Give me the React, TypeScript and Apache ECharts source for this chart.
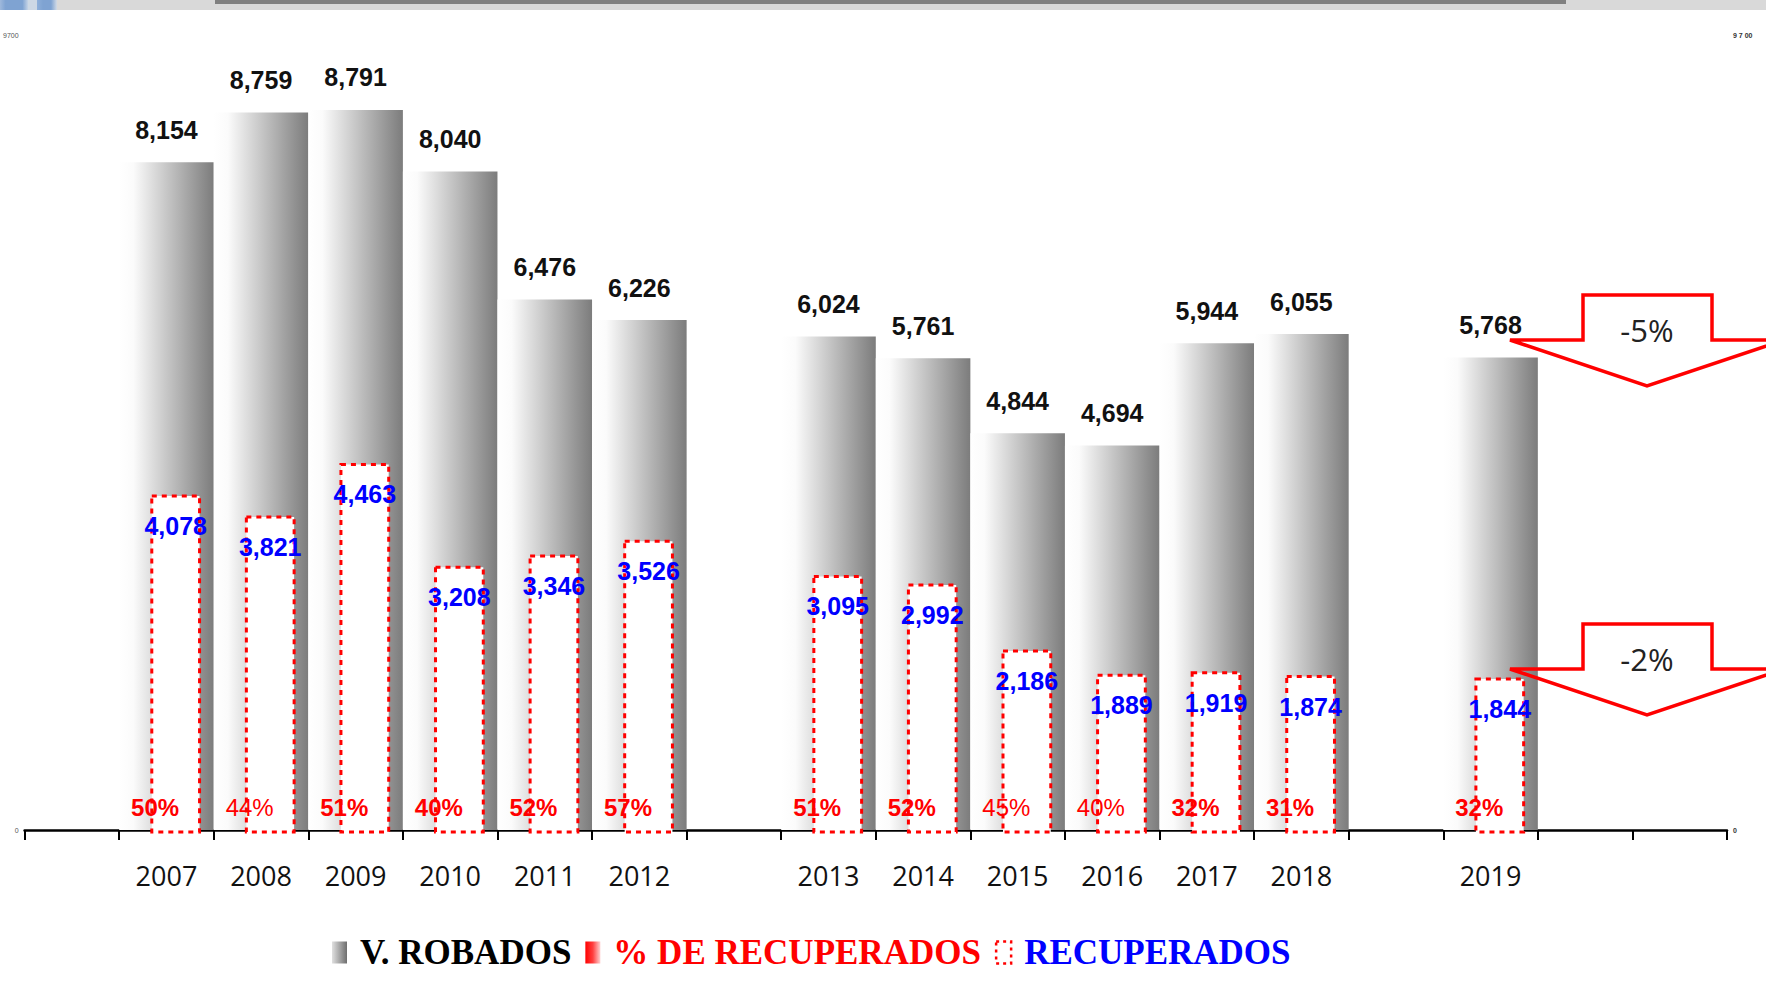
import React, { useEffect, useRef } from "react";
import * as echarts from "echarts";

// ---- Data ----
const categories = ["", "2007", "2008", "2009", "2010", "2011", "2012", "", "2013", "2014", "2015", "2016", "2017", "2018", "", "2019", "", ""];
const years = ["2007", "2008", "2009", "2010", "2011", "2012", "2013", "2014", "2015", "2016", "2017", "2018", "2019"];
const robados = [8154, 8759, 8791, 8040, 6476, 6226, 6024, 5761, 4844, 4694, 5944, 6055, 5768];
const recuperados = [4078, 3821, 4463, 3208, 3346, 3526, 3095, 2992, 2186, 1889, 1919, 1874, 1844];
const pctRecuperados = [50, 44, 51, 40, 52, 57, 51, 52, 45, 40, 32, 31, 32];
const pctBold = [true, false, true, true, true, true, true, true, false, false, true, true, true];
const yTickLabels = [0, 9700];
const changeNotes = ["-5%", "-2%"];

const fmt = (v: number) => Math.round(v).toLocaleString("en-US");

export default function App() {
  const ref = useRef<HTMLDivElement>(null);

  useEffect(() => {
    if (!ref.current) return;
    const chart = echarts.init(ref.current, null, { renderer: "svg" });

    const robadosData = categories.map((c) => {
      const i = years.indexOf(c);
      return c && i >= 0 ? robados[i] : "-";
    });
    const recData = years.map((y, i) => [categories.indexOf(y), recuperados[i]]);
    const pctData = years.map((y, i) => [categories.indexOf(y), pctRecuperados[i]]);

    const grayGrad = new echarts.graphic.LinearGradient(0, 0, 1, 0, [
      { offset: 0, color: "#ffffff" },
      { offset: 0.15, color: "#fbfbfb" },
      { offset: 1, color: "#7c7c7c" },
    ]);
    const grayIcon = new echarts.graphic.LinearGradient(0, 0, 1, 0, [
      { offset: 0, color: "#e0e0e0" },
      { offset: 1, color: "#6e6e6e" },
    ]);
    const redGrad = new echarts.graphic.LinearGradient(0, 0, 1, 0, [
      { offset: 0, color: "#ff0000" },
      { offset: 0.5, color: "#ff4040" },
      { offset: 1, color: "#ffd0d0" },
    ]);

    const arrow = (dy: number, text: string) => [
      {
        type: "polygon",
        z: 100,
        shape: {
          points: [
            [1583, 295 + dy],
            [1712, 295 + dy],
            [1712, 340 + dy],
            [1784, 340 + dy],
            [1647, 386 + dy],
            [1510, 340 + dy],
            [1583, 340 + dy],
          ],
        },
        style: { fill: "none", stroke: "#ff0000", lineWidth: 3.5 },
      },
      {
        type: "text",
        z: 101,
        x: 1647,
        y: 330 + dy,
        style: {
          text,
          fill: "#222",
          font: '31px "Open Sans", sans-serif',
          align: "center",
          verticalAlign: "middle",
        },
      },
    ];

    chart.setOption({
      animation: false,
      backgroundColor: "#ffffff",
      grid: { left: 24, right: 39, top: 35.5, bottom: 163, containLabel: false },
      legend: {
        left: 327,
        top: 930,
        itemWidth: 15,
        itemHeight: 22,
        itemGap: 14,
        selectedMode: false,
        textStyle: {
          fontFamily: '"Liberation Serif", "Times New Roman", serif',
          fontWeight: "bold",
          fontSize: 35,
          padding: [0, 0, 0, 8],
        },
        data: [
          { name: "V. ROBADOS", icon: "rect", itemStyle: { color: grayIcon }, textStyle: { color: "#000" } },
          { name: "% DE RECUPERADOS", icon: "rect", itemStyle: { color: redGrad }, textStyle: { color: "#ff0000" } },
          {
            name: "RECUPERADOS",
            icon: "rect",
            itemStyle: { color: "#fff", borderColor: "#ff0000", borderWidth: 2.5, borderType: [3, 4] },
            textStyle: { color: "#0000ff" },
          },
        ],
      },
      xAxis: {
        type: "category",
        data: categories,
        boundaryGap: true,
        axisLine: { lineStyle: { color: "#000", width: 2.5 } },
        axisTick: { show: true, length: 10, inside: false, alignWithLabel: false, interval: 0, lineStyle: { color: "#000", width: 2 } },
        axisLabel: {
          interval: 0,
          margin: 32,
          fontSize: 27,
          fontFamily: '"Open Sans", sans-serif',
          color: "#111",
        },
        splitLine: { show: false },
      },
      yAxis: [
        {
          type: "value",
          min: yTickLabels[0],
          max: yTickLabels[1],
          interval: yTickLabels[1],
          position: "left",
          axisLine: { show: false },
          axisTick: { show: false },
          splitLine: { show: false },
          axisLabel: {
            fontSize: 7,
            color: "#555",
            margin: 6,
            fontFamily: "Liberation Sans",
            formatter: (v: number) => String(v),
          },
        },
        {
          type: "value",
          min: yTickLabels[0],
          max: yTickLabels[1],
          interval: yTickLabels[1],
          position: "right",
          axisLine: { show: false },
          axisTick: { show: false },
          splitLine: { show: false },
          axisLabel: {
            fontSize: 7,
            color: "#333",
            fontWeight: "bold",
            margin: 6,
            fontFamily: "Liberation Sans",
            formatter: (v: number) => (v === yTickLabels[1] ? "9 7 00" : String(v)),
          },
        },
      ],
      series: [
        {
          name: "V. ROBADOS",
          type: "bar",
          data: robadosData,
          barWidth: "100%",
          barCategoryGap: "0%",
          itemStyle: { color: grayGrad },
          label: {
            show: true,
            position: "top",
            distance: 20,
            formatter: (p: any) => fmt(p.value),
            fontFamily: '"Liberation Sans", Arial, sans-serif',
            fontWeight: "bold",
            fontSize: 25,
            color: "#111",
          },
          z: 2,
        },
        {
          name: "RECUPERADOS",
          type: "custom",
          data: recData,
          z: 3,
          renderItem: (params: any, api: any) => {
            const idx = api.value(0);
            const val = api.value(1);
            const top = api.coord([idx, val]);
            const base = api.coord([idx, 0]);
            const w = api.size([1, 0])[0];
            const x0 = top[0] - 0.155 * w;
            const x1 = top[0] + 0.35 * w;
            return {
              type: "group",
              children: [
                {
                  type: "rect",
                  shape: { x: x0, y: top[1], width: x1 - x0, height: base[1] - top[1] + 2 },
                  style: { fill: "#fff", stroke: "#ff0000", lineWidth: 3, lineDash: [5, 5] },
                },
                {
                  type: "text",
                  x: (x0 + x1) / 2,
                  y: top[1] + 30,
                  style: {
                    text: fmt(val),
                    fill: "#0000ff",
                    font: 'bold 25px "Liberation Sans", Arial, sans-serif',
                    align: "center",
                    verticalAlign: "middle",
                  },
                },
              ],
            };
          },
        },
        {
          name: "% DE RECUPERADOS",
          type: "custom",
          data: pctData,
          z: 4,
          renderItem: (params: any, api: any) => {
            const idx = api.value(0);
            const val = api.value(1);
            const base = api.coord([idx, 0]);
            const w = api.size([1, 0])[0];
            const bold = pctBold[params.dataIndex];
            return {
              type: "text",
              x: base[0] - 0.12 * w,
              y: base[1] - 22.5,
              style: {
                text: val + "%",
                fill: "#ff0000",
                font: (bold ? "bold " : "") + '24px "Liberation Sans", Arial, sans-serif',
                align: "center",
                verticalAlign: "middle",
              },
            };
          },
        },
      ],
      graphic: [
        { type: "rect", z: 50, shape: { x: 0, y: 0, width: 1766, height: 10 }, style: { fill: "#d9d9d9" } },
        { type: "rect", z: 51, shape: { x: 215, y: 0, width: 1351, height: 4 }, style: { fill: "#808080" } },
        {
          type: "rect",
          z: 51,
          shape: { x: 0, y: 0, width: 28, height: 10 },
          style: {
            fill: new echarts.graphic.LinearGradient(0, 0, 1, 0, [
              { offset: 0, color: "#9fb9dc" },
              { offset: 0.2, color: "#7fa3d2" },
              { offset: 0.8, color: "#7fa3d2" },
              { offset: 1, color: "#c4d3e6" },
            ]),
          },
        },
        { type: "rect", z: 51, shape: { x: 28, y: 0, width: 9, height: 10 }, style: { fill: "#cdd8e5" } },
        {
          type: "rect",
          z: 51,
          shape: { x: 37, y: 0, width: 20, height: 10 },
          style: {
            fill: new echarts.graphic.LinearGradient(0, 0, 1, 0, [
              { offset: 0, color: "#8fb0da" },
              { offset: 0.3, color: "#7fa3d2" },
              { offset: 0.7, color: "#7fa3d2" },
              { offset: 1, color: "#d2dbe6" },
            ]),
          },
        },
        ...arrow(0, changeNotes[0]),
        ...arrow(329, changeNotes[1]),
      ],
    });

    return () => chart.dispose();
  }, []);

  return (
    <div
      ref={ref}
      style={{ position: "fixed", left: 0, top: 0, width: 1766, height: 993, background: "#fff" }}
    />
  );
}
